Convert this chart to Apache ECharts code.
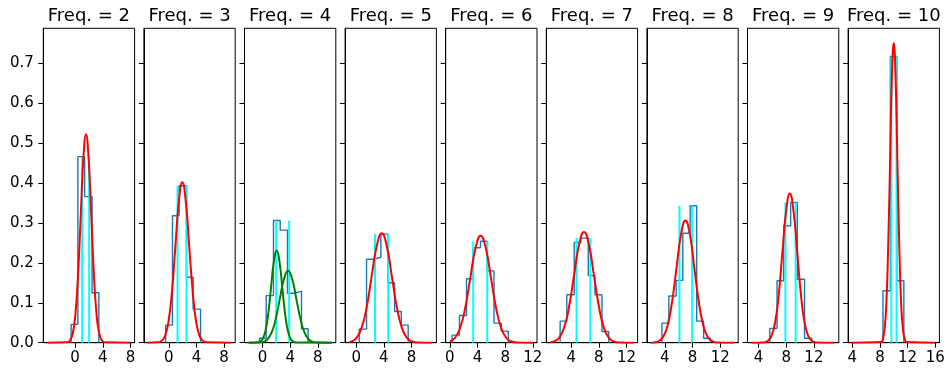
<!DOCTYPE html>
<html>
<head>
<meta charset="utf-8">
<script src="https://cdn.jsdelivr.net/npm/echarts@6/dist/echarts.min.js"></script>
<style>
html,body{margin:0;padding:0;background:#fff}
#container{width:950px;height:370px}
</style>
</head>
<body>
<div id="container"></div>
<script>
// one panel per frequency
var freqs = [2, 3, 4, 5, 6, 7, 8, 9, 10];
var xTicks = [[0,4,8],[0,4,8],[0,4,8],[0,4,8],[0,4,8,12],[4,8,12],[4,8,12],[4,8,12],[4,8,12,16]];
var yTicks = [0, 0.1, 0.2, 0.3, 0.4, 0.5, 0.6, 0.7];

// histogram (density, step outline)
var binEdges = [
    [-0.58, 0.4, 1.38, 2.45, 3.43],
    [-0.45, 0.53, 1.49, 2.56, 3.52, 4.59],
    [-0.43, 0.53, 1.59, 2.56, 3.61, 4.68, 5.64, 6.6],
    [0.45, 1.5, 2.58, 3.57, 4.6, 5.55, 6.52, 7.52],
    [0.33, 1.39, 2.41, 3.38, 4.43, 5.41, 6.38, 7.43, 8.45],
    [2.4, 3.36, 4.44, 5.4, 6.47, 7.43, 8.45, 9.42],
    [3.57, 4.57, 5.64, 6.59, 7.65, 8.6, 9.6, 10.57],
    [5.62, 6.67, 7.63, 8.64, 9.6, 10.65, 11.7],
    [8.44, 9.51, 10.45, 11.46]
];
var binDensity = [
    [0.046, 0.466, 0.366, 0.125],
    [0.044, 0.318, 0.393, 0.164, 0.084],
    [0.011, 0.118, 0.306, 0.282, 0.124, 0.129, 0.035],
    [0.034, 0.209, 0.214, 0.272, 0.150, 0.078, 0.044],
    [0.019, 0.068, 0.160, 0.238, 0.254, 0.180, 0.049, 0.029],
    [0.054, 0.120, 0.251, 0.262, 0.168, 0.120, 0.028],
    [0.049, 0.117, 0.156, 0.274, 0.343, 0.054, 0.011],
    [0.036, 0.155, 0.293, 0.351, 0.159, 0.011],
    [0.130, 0.717, 0.155]
];

// cyan markers
var markX = [[1.02,2.03],[1.26,2.56],[1.98,3.86],[2.73,4.64],[3.38,5.41],[4.77,6.76],[6.11,7.94],[7.88,9.36],[9.65,10.4]];
var markTop = [0.466, 0.393, 0.306, 0.272, 0.254, 0.262, 0.343, 0.351, 0.717];

// fitted curves (freq 4 has two components)
var fitCurves = [
    [[[-4,0],[-1.11,0.0011],[-0.73,0.0058],[-0.34,0.0229],[0.04,0.0706],[0.42,0.1695],[0.81,0.3166],[1.19,0.4607],[1.57,0.522],[1.95,0.4607],[2.34,0.3166],[2.72,0.1695],[3.1,0.0706],[3.48,0.0229],[3.87,0.0058],[4.25,0.0011],[8,0]]],
    [[[-3,0],[-1.52,0.0009],[-1.02,0.0045],[-0.53,0.0176],[-0.03,0.0544],[0.47,0.1305],[0.96,0.2438],[1.46,0.3548],[1.95,0.402],[2.45,0.3548],[2.94,0.2438],[3.44,0.1305],[3.93,0.0544],[4.43,0.0176],[4.92,0.0045],[5.42,0.0009],[9,0]]],
    [[[-2,0],[-0.75,0.0005],[-0.35,0.0026],[0.05,0.0101],[0.45,0.0313],[0.85,0.075],[1.25,0.1401],[1.65,0.2039],[2.05,0.231],[2.45,0.2039],[2.85,0.1401],[3.25,0.075],[3.65,0.0313],[4.05,0.0101],[4.45,0.0026],[4.85,0.0005],[10,0]],
     [[-2,0],[-0.5,0.0004],[0.1,0.002],[0.7,0.0079],[1.3,0.0244],[1.9,0.0584],[2.5,0.1092],[3.1,0.1589],[3.7,0.18],[4.3,0.1589],[4.9,0.1092],[5.5,0.0584],[6.1,0.0244],[6.7,0.0079],[7.3,0.002],[7.9,0.0004],[10,0]]],
    [[[-1,0.0015],[-0.67,0.003],[0.06,0.012],[0.79,0.0371],[1.52,0.089],[2.24,0.1662],[2.97,0.2418],[3.7,0.274],[4.43,0.2418],[5.16,0.1662],[5.88,0.089],[6.61,0.0371],[7.34,0.012],[8.07,0.003],[8.8,0.0006],[11,0]]],
    [[[0,0.003],[0.73,0.0118],[1.47,0.0363],[2.22,0.087],[2.96,0.1625],[3.71,0.2365],[4.45,0.268],[5.2,0.2365],[5.94,0.1625],[6.68,0.087],[7.43,0.0363],[8.17,0.0118],[8.92,0.003],[9.66,0.0006],[12,0]]],
    [[[1,0.0009],[1.53,0.0031],[2.25,0.0122],[2.97,0.0375],[3.69,0.0899],[4.41,0.168],[5.13,0.2445],[5.85,0.277],[6.57,0.2445],[7.29,0.168],[8.01,0.0899],[8.73,0.0375],[9.45,0.0122],[10.17,0.0031],[10.89,0.0006],[13,0]]],
    [[[2,0],[2.41,0.0007],[3.06,0.0034],[3.71,0.0134],[4.36,0.0414],[5.01,0.0994],[5.67,0.1856],[6.32,0.27],[6.97,0.306],[7.62,0.27],[8.27,0.1856],[8.93,0.0994],[9.58,0.0414],[10.23,0.0134],[10.88,0.0034],[11.53,0.0007],[14,0]]],
    [[[3,0],[4.79,0.0008],[5.32,0.0042],[5.85,0.0164],[6.39,0.0506],[6.92,0.1214],[7.45,0.2268],[7.99,0.3301],[8.52,0.374],[9.05,0.3301],[9.59,0.2268],[10.12,0.1214],[10.65,0.0506],[11.19,0.0164],[11.72,0.0042],[12.26,0.0008],[15,0]]],
    [[[4,0],[8.14,0.0017],[8.4,0.0083],[8.67,0.0329],[8.94,0.1015],[9.2,0.2435],[9.47,0.4549],[9.73,0.6619],[10,0.75],[10.27,0.6619],[10.53,0.4549],[10.8,0.2435],[11.06,0.1015],[11.33,0.0329],[11.6,0.0083],[11.86,0.0017],[16,0]]]
];

var font = 'DejaVu Sans';
var panelLeft = 43.3, panelStep = 100.6, panelWidth = 91.3, panelTop = 28.3, panelHeight = 314.4;

var grids = [], xAxes = [], yAxes = [], series = [], texts = [];

for (var i = 0; i < freqs.length; i++) {
    var f = freqs[i];
    var left = panelLeft + i * panelStep;
    grids.push({
        left: left, top: panelTop, width: panelWidth, height: panelHeight,
        show: true, borderColor: '#000', borderWidth: 1, backgroundColor: 'transparent'
    });
    xAxes.push({
        type: 'value', gridIndex: i, min: f - 6.6, max: f + 6.6,
        splitLine: {show: false},
        axisLine: {show: true, onZero: false, lineStyle: {color: '#000', width: 1}},
        axisTick: {show: true, length: 5, customValues: xTicks[i], lineStyle: {color: '#000', width: 1}},
        axisLabel: {customValues: xTicks[i], margin: 8, color: '#000', fontSize: 15, fontFamily: font}
    });
    yAxes.push({
        type: 'value', gridIndex: i, min: 0, max: 0.7875,
        splitLine: {show: false},
        axisLine: {show: true, onZero: false, lineStyle: {color: '#000', width: 1}},
        axisTick: {show: true, length: 5, customValues: yTicks, lineStyle: {color: '#000', width: 1}},
        axisLabel: {
            show: i === 0, customValues: yTicks, margin: 9.5, color: '#000', fontSize: 15, fontFamily: font,
            formatter: function (v) { return v.toFixed(1); }
        }
    });

    // step outline of the histogram
    var e = binEdges[i], d = binDensity[i];
    var pts = [[e[0], 0]];
    for (var k = 0; k < d.length; k++) {
        pts.push([e[k], d[k]]);
        pts.push([e[k + 1], d[k]]);
    }
    pts.push([e[e.length - 1], 0]);
    series.push({
        type: 'line', xAxisIndex: i, yAxisIndex: i, data: pts,
        showSymbol: false, silent: true,
        lineStyle: {color: '#1f77b4', width: 1.4}
    });

    for (var m = 0; m < markX[i].length; m++) {
        series.push({
            type: 'line', xAxisIndex: i, yAxisIndex: i,
            data: [[markX[i][m], 0], [markX[i][m], markTop[i]]],
            showSymbol: false, silent: true,
            lineStyle: {color: '#00ffff', width: 2}
        });
    }

    var curves = fitCurves[i];
    for (var c = 0; c < curves.length; c++) {
        series.push({
            type: 'line', xAxisIndex: i, yAxisIndex: i, data: curves[c],
            showSymbol: false, silent: true, smooth: true,
            lineStyle: {color: curves.length > 1 ? '#008000' : '#ff0000', width: 2}
        });
    }

    texts.push({
        type: 'text', x: left + panelWidth / 2, y: 16,
        style: {
            text: 'Freq. = ' + f, textAlign: 'center', textVerticalAlign: 'middle',
            font: '18px "' + font + '"', fill: '#000'
        }
    });
}

var myChart = echarts.init(document.getElementById('container'));

var option = {
    animation: false,
    backgroundColor: '#fff',
    grid: grids,
    xAxis: xAxes,
    yAxis: yAxes,
    series: series,
    graphic: texts
};

myChart.setOption(option);
</script>
</body>
</html>
